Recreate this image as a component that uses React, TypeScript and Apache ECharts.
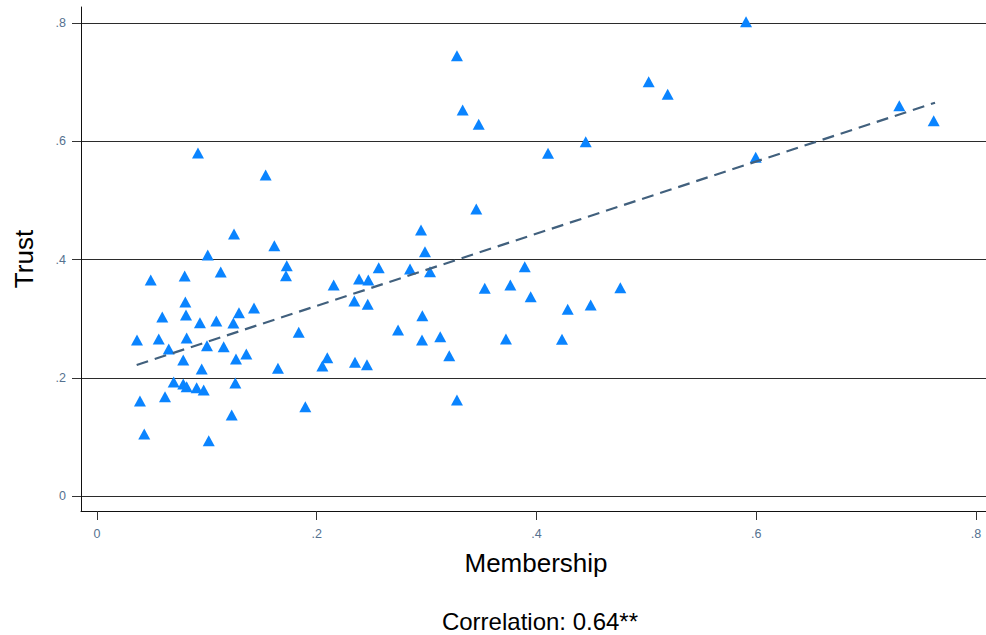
import React, { useEffect, useRef } from "react";
import * as echarts from "echarts";

const membership = [
  0.0364, 0.0391, 0.043, 0.0489, 0.0562, 0.0594, 0.0619, 0.0653, 0.0698, 0.0785,
  0.0798, 0.0804, 0.081, 0.0785, 0.0816, 0.0816, 0.0907, 0.0919, 0.0937, 0.0953,
  0.0971, 0.1001, 0.1008, 0.1017, 0.1086, 0.1126, 0.1153, 0.1226, 0.1241, 0.1247,
  0.1259, 0.1265, 0.1292, 0.1359, 0.1429, 0.1535, 0.1614, 0.1647, 0.1727, 0.172,
  0.1836, 0.1896, 0.2051, 0.2096, 0.2154, 0.2342, 0.2348, 0.2385, 0.2464, 0.2457,
  0.2469, 0.2564, 0.274, 0.2849, 0.2949, 0.2961, 0.2958, 0.2985, 0.3031, 0.3124,
  0.3206, 0.3276, 0.3276, 0.3328, 0.3474, 0.3452, 0.3529, 0.3722, 0.3762, 0.3893,
  0.3947, 0.4105, 0.4232, 0.4284, 0.4448, 0.4493, 0.4763, 0.5021, 0.5194, 0.5907,
  0.5995, 0.7302, 0.7615,
];

const trust = [
  0.2638, 0.1607, 0.1049, 0.3653, 0.2655, 0.3027, 0.168, 0.2486, 0.1928, 0.23,
  0.3721, 0.3281, 0.3061, 0.1894, 0.1849, 0.2672, 0.1832, 0.5801, 0.2931, 0.2148,
  0.1793, 0.2542, 0.4076, 0.0935, 0.296, 0.3789, 0.2525, 0.137, 0.2926, 0.4431,
  0.1911, 0.2317, 0.31, 0.2402, 0.318, 0.5429, 0.4233, 0.216, 0.3895, 0.3726,
  0.2769, 0.151, 0.2199, 0.2339, 0.3569, 0.3298, 0.2261, 0.367, 0.3242, 0.2221,
  0.3653, 0.3861, 0.2808, 0.3839, 0.4499, 0.3049, 0.2638, 0.4132, 0.3794, 0.2694,
  0.2373, 0.7447, 0.1624, 0.6529, 0.6287, 0.4854, 0.3513, 0.2655, 0.3569, 0.3878,
  0.3371, 0.5796, 0.265, 0.3158, 0.5992, 0.323, 0.3523, 0.7007, 0.6794, 0.8022,
  0.5729, 0.6601, 0.6348,
];

const fitX = [0.0361, 0.7627];
const fitY = [0.2216, 0.6652];

const tickValues = [0, 0.2, 0.4, 0.6, 0.8];

const FONT = "'Liberation Sans', Arial, sans-serif";

const fmt = (v: number) => {
  if (Math.abs(v) < 1e-9) return "0";
  return "." + Math.round(v * 10).toString();
};

export default function App() {
  const ref = useRef<HTMLDivElement>(null);

  useEffect(() => {
    if (!ref.current) return;
    const chart = echarts.init(ref.current, undefined, { renderer: "svg" });
    const points = membership.map((m, i) => [m, trust[i]]);
    const fit = fitX.map((x, i) => [x, fitY[i]]);
    chart.setOption({
      animation: false,
      backgroundColor: "#ffffff",
      grid: { left: 81, right: 0, top: 7, height: 504 },
      xAxis: {
        type: "value",
        min: -0.01456,
        max: 0.8091,
        axisLine: { show: true, onZero: false, lineStyle: { color: "#111", width: 1 } },
        axisTick: {
          show: true,
          length: 9,
          customValues: tickValues,
          lineStyle: { color: "#333", width: 1 },
        },
        axisLabel: {
          customValues: tickValues,
          formatter: fmt,
          margin: 16,
          color: "#55718f",
          fontSize: 12.5,
          fontFamily: FONT,
        },
        splitLine: { show: false },
      },
      yAxis: {
        type: "value",
        min: -0.02537,
        max: 0.8271,
        axisLine: { show: true, onZero: false, lineStyle: { color: "#111", width: 1 } },
        axisTick: {
          show: true,
          length: 9,
          customValues: tickValues,
          lineStyle: { color: "#333", width: 1 },
        },
        axisLabel: {
          customValues: tickValues,
          formatter: fmt,
          margin: 15,
          color: "#55718f",
          fontSize: 12.5,
          fontFamily: FONT,
        },
        splitLine: { show: true, lineStyle: { color: "#2b2b2b", width: 1 } },
      },
      series: [
        {
          type: "scatter",
          data: points,
          symbol: "triangle",
          symbolSize: [12, 11],
          itemStyle: { color: "#0a84ff", opacity: 1 },
          z: 3,
        },
        {
          type: "line",
          data: fit,
          showSymbol: false,
          symbol: "none",
          lineStyle: { color: "#41607d", width: 2.2, type: [12, 7] },
          z: 4,
        },
      ],
      graphic: [
        {
          type: "text",
          x: 536,
          y: 563,
          style: {
            text: "Membership",
            font: `26px ${FONT}`,
            fill: "#000",
            align: "center",
            verticalAlign: "middle",
          },
        },
        {
          type: "text",
          x: 24,
          y: 259,
          rotation: Math.PI / 2,
          style: {
            text: "Trust",
            font: `26px ${FONT}`,
            fill: "#000",
            align: "center",
            verticalAlign: "middle",
          },
        },
        {
          type: "text",
          x: 540,
          y: 621,
          style: {
            text: "Correlation: 0.64**",
            font: `24px ${FONT}`,
            fill: "#000",
            align: "center",
            verticalAlign: "middle",
          },
        },
      ],
    });
    return () => chart.dispose();
  }, []);

  return (
    <div
      ref={ref}
      style={{ position: "fixed", left: 0, top: 0, width: 986, height: 635 }}
    />
  );
}
